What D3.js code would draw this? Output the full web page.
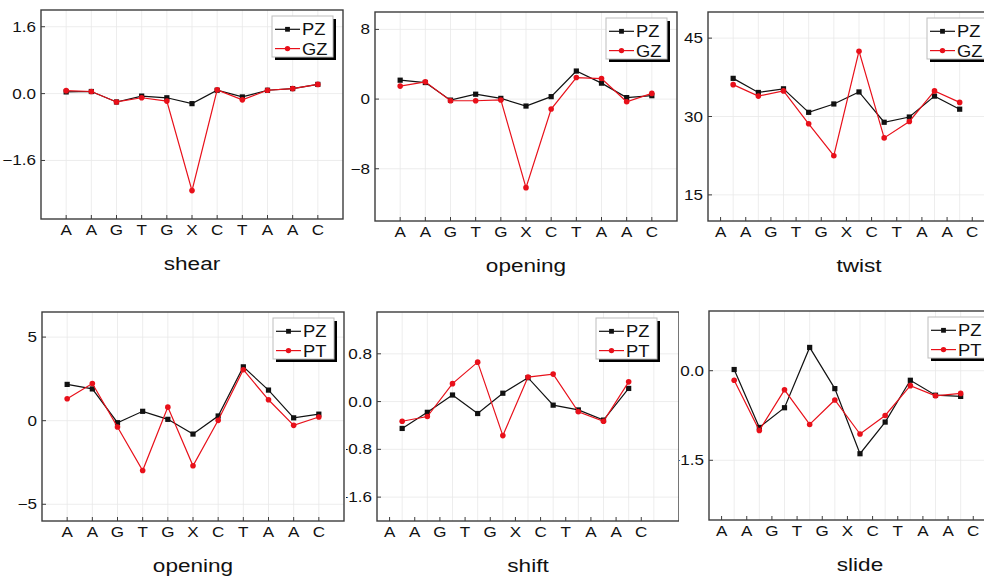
<!DOCTYPE html>
<html><head><meta charset="utf-8">
<script src="https://cdn.jsdelivr.net/npm/d3@7"></script>
<style>
html,body{margin:0;padding:0;background:#fff;}
svg{display:block;}
text{font-family:"Liberation Sans",Arial,sans-serif;fill:#111;}
</style></head>
<body>
<svg id="chart" width="984" height="580"></svg>
<script>
// ---- data ----
const categories = ["A","A","G","T","G","X","C","T","A","A","C"];

const shearPZ   = [0.04, 0.05, -0.2, -0.06, -0.1, -0.24, 0.08, -0.08, 0.08, 0.12, 0.22];
const shearGZ   = [0.07, 0.05, -0.2, -0.1, -0.18, -2.32, 0.09, -0.15, 0.08, 0.12, 0.22];
const openingPZ = [2.17, 1.9, -0.12, 0.56, 0.08, -0.8, 0.28, 3.22, 1.83, 0.17, 0.39];
const openingGZ = [1.49, 1.98, -0.19, -0.19, -0.1, -10.17, -1.14, 2.47, 2.36, -0.3, 0.65];
const twistPZ   = [37.3, 34.6, 35.3, 30.8, 32.4, 34.7, 28.9, 29.9, 33.9, 31.4];
const twistGZ   = [36.1, 33.9, 34.9, 28.6, 22.5, 42.5, 25.9, 29.05, 34.9, 32.7];
const openingPT = [1.31, 2.22, -0.38, -2.98, 0.81, -2.7, 0.02, 3.05, 1.25, -0.28, 0.22];
const shiftPZ   = [-0.45, -0.18, 0.11, -0.2, 0.14, 0.4, -0.06, -0.14, -0.31, 0.22];
const shiftPT   = [-0.33, -0.25, 0.3, 0.66, -0.57, 0.41, 0.46, -0.17, -0.33, 0.33];
const slidePZ   = [0.02, -0.95, -0.62, 0.39, -0.3, -1.39, -0.86, -0.16, -0.41, -0.43];
const slidePT   = [-0.16, -1.0, -0.32, -0.9, -0.49, -1.06, -0.75, -0.25, -0.42, -0.38];

const shearTicks   = [1.6, 0, -1.6];
const opening1Ticks = [8, 0, -8];
const twistTicks   = [45, 30, 15];
const opening2Ticks = [5, 0, -5];
const shiftTicks   = [0.8, 0, -0.8, -1.6];
const slideTicks   = [0, -1.5];

const seriesNamesTop = ["PZ", "GZ"];
const seriesNamesBottom = ["PZ", "PT"];

// ---- layout ----
const panels = [
  {title:"shear",   a:shearPZ,   b:shearGZ,   names:seriesNamesTop,    ticks:shearTicks,   fmt:d3.format(".1f"), dom:[-3,2],     step:false, fx:41,  fy:10,  clip:[0,0,346,290]},
  {title:"opening", a:openingPZ, b:openingGZ, names:seriesNamesTop,    ticks:opening1Ticks, fmt:d3.format("d"), dom:[-14,10],  step:false, fx:375, fy:12,  clip:[346,0,334,290]},
  {title:"twist",   a:twistPZ,   b:twistGZ,   names:seriesNamesTop,    ticks:twistTicks,   fmt:d3.format("d"),   dom:[10,50],    step:true,  fx:708, fy:12,  clip:[680,0,304,290]},
  {title:"opening", a:openingPZ, b:openingPT, names:seriesNamesBottom, ticks:opening2Ticks, fmt:d3.format("d"), dom:[-6,6.5],  step:false, fx:42,  fy:312, clip:[0,290,346,290]},
  {title:"shift",   a:shiftPZ,   b:shiftPT,   names:seriesNamesBottom, ticks:shiftTicks,   fmt:d3.format(".1f"), dom:[-2,1.5],   step:true,  fx:377, fy:312, clip:[346,290,333,290]},
  {title:"slide",   a:slidePZ,   b:slidePT,   names:seriesNamesBottom, ticks:slideTicks,   fmt:d3.format(".1f"), dom:[-2.5,1],   step:true,  fx:709, fy:311, clip:[679,290,305,290]}
];
const W = 302, H = 209;
const SX = 1.22;
const RED = "#e8101a", BLACK = "#111";
const svg = d3.select("#chart");
const defs = svg.append("defs");

function stext(g, x, y, str, size, anchor, sx) {
  return g.append("text")
    .attr("transform", `translate(${x},${y}) scale(${sx||SX},1)`)
    .attr("text-anchor", anchor)
    .style("font-size", size + "px")
    .text(str);
}

panels.forEach((p, i) => {
  defs.append("clipPath").attr("id", "clip" + i)
    .append("rect").attr("x", p.clip[0]).attr("y", p.clip[1]).attr("width", p.clip[2]).attr("height", p.clip[3]);
  const outer = svg.append("g").attr("clip-path", `url(#clip${i})`);
  const g = outer.append("g").attr("transform", `translate(${p.fx},${p.fy})`);

  const x = d3.scaleLinear().domain([0, 12]).range([0, W]);
  const y = d3.scaleLinear().domain(p.dom).range([H, 0]);
  const labelPos = categories.map((c, k) => p.step ? k + 0.5 : k + 1);
  const gridPos = categories.map((c, k) => k + 1);
  const ptPos = p.a.map((v, k) => k + 1);

  // grid
  g.append("g").selectAll("line").data(gridPos).join("line")
    .attr("x1", d => x(d)).attr("x2", d => x(d)).attr("y1", 0).attr("y2", H)
    .attr("stroke", "#e9e9e9").attr("stroke-width", 0.8);
  g.append("g").selectAll("line").data(p.ticks).join("line")
    .attr("x1", 0).attr("x2", W).attr("y1", d => y(d)).attr("y2", d => y(d))
    .attr("stroke", "#e9e9e9").attr("stroke-width", 0.8);

  // frame
  g.append("rect").attr("x", 0).attr("y", 0).attr("width", W).attr("height", H)
    .attr("fill", "none").attr("stroke", "#3c3c3c").attr("stroke-width", 1.4);

  // x ticks and labels
  g.append("g").selectAll("line").data(labelPos).join("line")
    .attr("x1", d => x(d)).attr("x2", d => x(d)).attr("y1", H).attr("y2", H - 4)
    .attr("stroke", "#3c3c3c").attr("stroke-width", 1);
  labelPos.forEach((d, k) => stext(g, x(d), H + 16, categories[k], 14, "middle"));

  // y ticks and labels
  g.append("g").selectAll("line").data(p.ticks).join("line")
    .attr("x1", 0).attr("x2", 4).attr("y1", d => y(d)).attr("y2", d => y(d))
    .attr("stroke", "#3c3c3c").attr("stroke-width", 1);
  p.ticks.forEach(t => stext(g, -5, y(t) + 5, p.fmt(t), 14, "end"));

  // title
  stext(g, W / 2, H + 51, p.title, 18.5, "middle");

  // series
  const line = d3.line().x((d, k) => x(ptPos[k])).y(d => y(d));
  g.append("path").datum(p.a).attr("d", line).attr("fill", "none").attr("stroke", BLACK).attr("stroke-width", 1.2);
  g.append("g").selectAll("rect").data(p.a).join("rect")
    .attr("x", (d, k) => x(ptPos[k]) - 2.6).attr("y", d => y(d) - 2.6)
    .attr("width", 5.2).attr("height", 5.2).attr("fill", BLACK);
  g.append("path").datum(p.b).attr("d", line).attr("fill", "none").attr("stroke", RED).attr("stroke-width", 1.2);
  g.append("g").selectAll("circle").data(p.b).join("circle")
    .attr("cx", (d, k) => x(ptPos[k])).attr("cy", d => y(d)).attr("r", 2.8).attr("fill", RED);

  // legend
  const lx = p.step ? 219 : W - 71, ly = 6;
  const lg = g.append("g").attr("transform", `translate(${lx},${ly})`);
  lg.append("rect").attr("x", 3).attr("y", 3).attr("width", 61).attr("height", 41).attr("fill", "#000");
  lg.append("rect").attr("x", 0).attr("y", 0).attr("width", 61).attr("height", 41)
    .attr("fill", "#fff").attr("stroke", "#bdbdbd").attr("stroke-width", 1);
  [[BLACK, "sq", 13.3], [RED, "ci", 32.6]].forEach((s, k) => {
    lg.append("line").attr("x1", 3).attr("x2", 28).attr("y1", s[2]).attr("y2", s[2])
      .attr("stroke", s[0]).attr("stroke-width", 1.2);
    if (s[1] === "sq") lg.append("rect").attr("x", 15.5 - 2.4).attr("y", s[2] - 2.4).attr("width", 4.8).attr("height", 4.8).attr("fill", s[0]);
    else lg.append("circle").attr("cx", 15.5).attr("cy", s[2]).attr("r", 2.7).attr("fill", s[0]);
    stext(lg, 30, s[2] + 6, p.names[k], 17, "start", 1.08);
  });
});
</script>
</body></html>
